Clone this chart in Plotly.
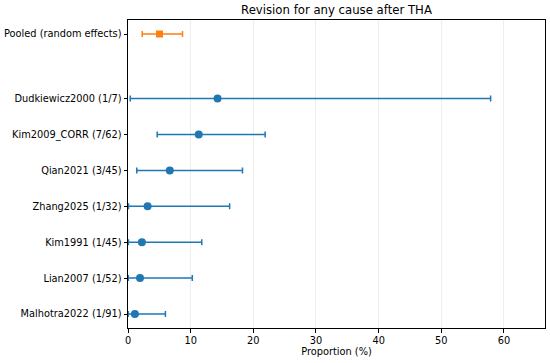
import plotly.graph_objects as go

studies = ["Malhotra2022 (1/91)", "Lian2007 (1/52)", "Kim1991 (1/45)", "Zhang2025 (1/32)",
           "Qian2021 (3/45)", "Kim2009_CORR (7/62)", "Dudkiewicz2000 (1/7)"]
study_est = [1.10, 1.92, 2.22, 3.13, 6.67, 11.29, 14.29]
study_lo = [0.03, 0.05, 0.06, 0.08, 1.40, 4.66, 0.36]
study_hi = [5.97, 10.26, 11.77, 16.22, 18.27, 21.89, 57.87]
study_pos = [0, 1, 2, 3, 4, 5, 6]

pooled_label = ["Pooled (random effects)"]
pooled_est = [5.03]
pooled_lo = [2.27]
pooled_hi = [8.70]
pooled_pos = [7.8]

FONT = "DejaVu Sans"
BLUE = "#1f77b4"
ORANGE = "#ff7f0e"

fig = go.Figure()
fig.add_trace(go.Scatter(
    x=study_est, y=study_pos, mode="markers",
    marker=dict(color=BLUE, size=8, symbol="circle"),
    error_x=dict(type="data", symmetric=False,
                 array=[h - e for h, e in zip(study_hi, study_est)],
                 arrayminus=[e - l for e, l in zip(study_est, study_lo)],
                 color=BLUE, thickness=1.5, width=3),
    showlegend=False,
))
fig.add_trace(go.Scatter(
    x=pooled_est, y=pooled_pos, mode="markers",
    marker=dict(color=ORANGE, size=7, symbol="square"),
    error_x=dict(type="data", symmetric=False,
                 array=[h - e for h, e in zip(pooled_hi, pooled_est)],
                 arrayminus=[e - l for e, l in zip(pooled_est, pooled_lo)],
                 color=ORANGE, thickness=1.5, width=3),
    showlegend=False,
))

xmax = max(study_hi) * 1.15

fig.update_layout(
    width=550, height=363,
    margin=dict(l=128, r=5, t=20, b=35),
    paper_bgcolor="white", plot_bgcolor="white",
    font=dict(family=FONT, size=9.8, color="black"),
    title=dict(text="Revision for any cause after THA", x=0.5, xref="paper",
               y=1 - 10 / 363, yanchor="middle", font=dict(family=FONT, size=11.7, color="black")),
    xaxis=dict(range=[0, xmax], tickvals=[0, 10, 20, 30, 40, 50, 60], automargin=False,
               showgrid=True, gridcolor="rgba(200,200,200,0.3)", gridwidth=1,
               showline=True, linecolor="black", linewidth=1, mirror=True,
               ticks="outside", ticklen=3.5, tickcolor="black", zeroline=False,
               title=dict(text="Proportion (%)", standoff=2, font=dict(size=9.8))),
    yaxis=dict(range=[-0.39, 8.19], tickvals=study_pos + pooled_pos, automargin=False,
               ticktext=studies + pooled_label, showgrid=False,
               showline=True, linecolor="black", linewidth=1, mirror=True,
               ticks="outside", ticklen=3.5, tickcolor="black", zeroline=False),
)

fig.write_html("out.html", config={"displayModeBar": False},
               post_script="document.body.style.margin='0px';")
